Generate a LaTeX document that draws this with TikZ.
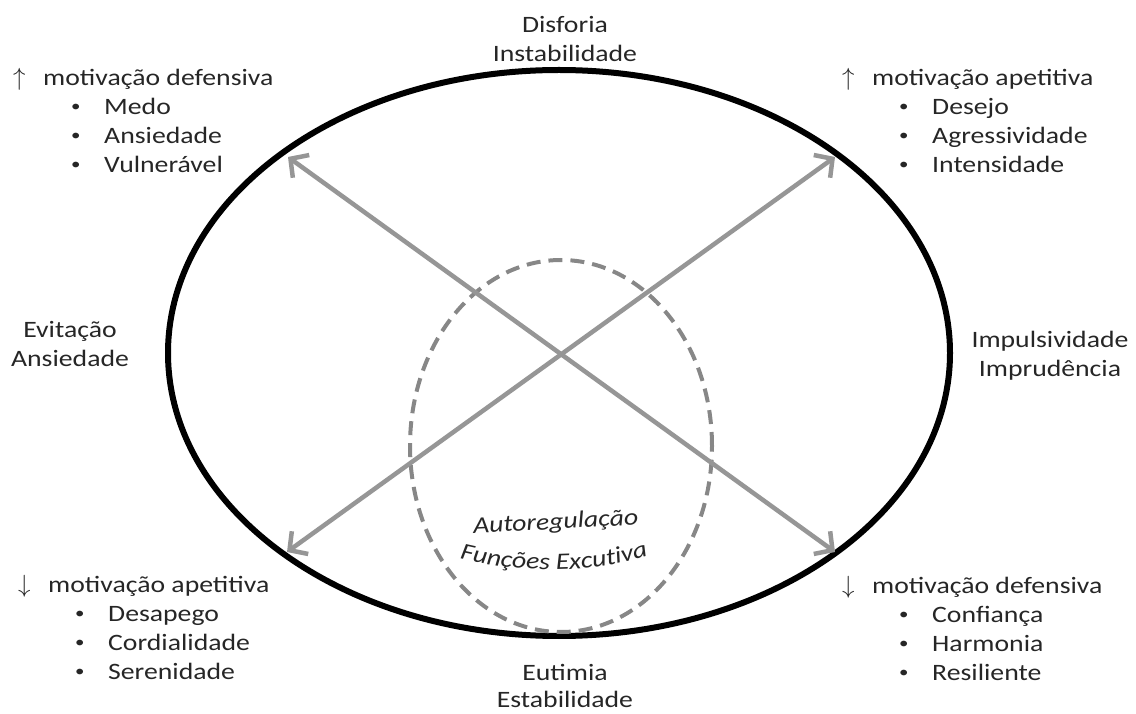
\documentclass[tikz,border=0pt]{standalone}
\usepackage{fontspec}
\setmainfont{Carlito}[FakeStretch=1.18]
\usetikzlibrary{arrows.meta,positioning,decorations.text}
\definecolor{axisgray}{RGB}{150,150,150}
\definecolor{dashgray}{RGB}{135,135,135}
\definecolor{inkgray}{RGB}{38,38,38}
\tikzset{>={Straight Barb[length=13pt,width=28pt]}}
\tikzset{every node/.style={font=\fontsize{23.5}{29}\selectfont, text=inkgray, inner sep=0pt}}
\tikzset{
  lbl/.style={anchor=base},
  itemtext/.style={anchor=base west},
  centertxt/.style={anchor=base, font=\fontsize{23.5}{29}\selectfont\itshape},
  axisarrow/.style={<->, draw=axisgray, line width=4.5pt}
}
\newcommand{\motup}{\makebox[30pt][l]{$\uparrow$}}
\newcommand{\motdown}{\makebox[30pt][l]{$\downarrow$}}
\newcommand{\dotitem}{{\fontsize{16}{16}\selectfont\raisebox{3pt}{•}}}

\begin{document}
\begin{tikzpicture}[x=1pt,y=1pt]
  \useasboundingbox (0,0) rectangle (1136,713);
  % outer ellipse and inner dashed one
  \coordinate (mid) at (559,360);
  \draw[line width=6pt] (mid) ellipse [x radius=391, y radius=283];
  \coordinate (inner) at (561,267);
  \draw[dashgray, line width=4pt, dash pattern=on 14pt off 8pt] (inner) ellipse [x radius=151, y radius=186];
  % arrow ends
  \coordinate (tl) at (288,556);
  \coordinate (tr) at (835,556);
  \coordinate (bl) at (287,161);
  \coordinate (br) at (835,161);
  \draw[axisarrow] (tl) -- (br);
  \draw[axisarrow] (bl) -- (tr);
  % poles
  \node[lbl] (disforia) at (565,680) {Disforia};
  \node[lbl] (instab) at (565,651) {Instabilidade};
  \node[lbl] (eutimia) at (565,33) {Eutimia};
  \node[lbl] (estab) at (565,6) {Estabilidade};
  \node[lbl] (evit) at (70,375) {Evitação};
  \node[lbl] (ansied) at (70,346) {Ansiedade};
  \node[lbl] (impuls) at (1050,365) {Impulsividade};
  \node[lbl] (imprud) at (1050,336) {Imprudência};
  % center, second line bent
  \node[centertxt, rotate=3] (autoreg) at (556,184) {Autoregulação};
  \coordinate (fa) at (456,155);
  \coordinate (fb) at (652,158);
  \path[decorate, decoration={text along path, text align=center, text color=inkgray,
      text={|\fontsize{23.5}{29}\selectfont\itshape|Funções Excutiva}}]
    (fa) .. controls (520,139) and (590,139) .. (fb);
  % upper left
  \node[itemtext] (defup) at (13,627) {\motup motivação defensiva};
  \foreach \t [count=\i] in {Medo, Ansiedade, Vulnerável}
    {\node[itemtext] (defupb\i) at (71,627-29*\i) {\dotitem};
     \node[itemtext] (defupi\i) at (104,627-29*\i) {\t};}
  % upper right
  \node[itemtext] (apeup) at (842,627) {\motup motivação apetitiva};
  \foreach \t [count=\i] in {Desejo, Agressividade, Intensidade}
    {\node[itemtext] (apeupb\i) at (899,627-29*\i) {\dotitem};
     \node[itemtext] (apeupi\i) at (932,627-29*\i) {\t};}
  % lower left
  \node[itemtext] (apedown) at (18,121) {\motdown motivação apetitiva};
  \foreach \t [count=\i] in {Desapego, Cordialidade, Serenidade}
    {\node[itemtext] (apedownb\i) at (75,121-29*\i) {\dotitem};
     \node[itemtext] (apedowni\i) at (108,121-29*\i) {\t};}
  % lower right
  \node[itemtext] (defdown) at (842,120) {\motdown motivação defensiva};
  \foreach \t [count=\i] in {Confiança, Harmonia, Resiliente}
    {\node[itemtext] (defdownb\i) at (899,120-29*\i) {\dotitem};
     \node[itemtext] (defdowni\i) at (932,120-29*\i) {\t};}
\end{tikzpicture}
\end{document}
